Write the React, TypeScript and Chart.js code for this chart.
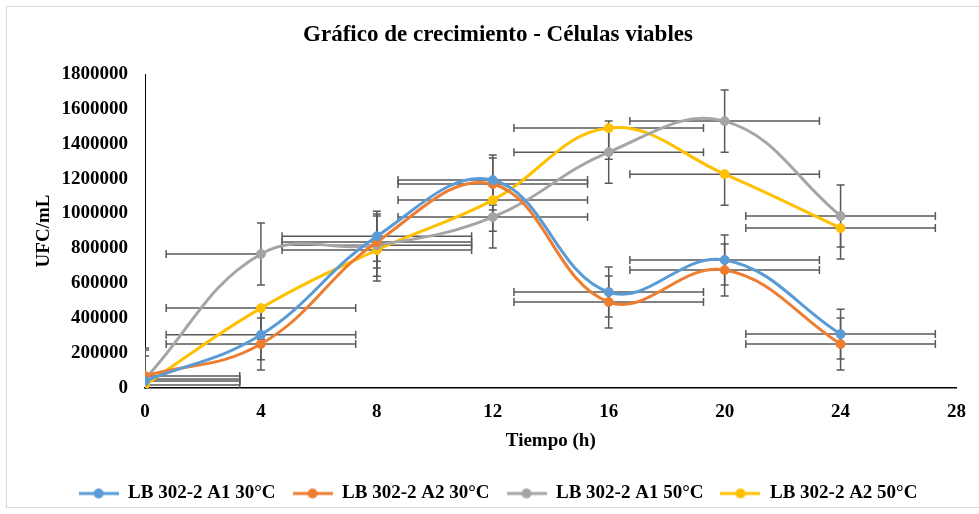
import React, { useEffect, useRef } from 'react';
import { Chart, registerables } from 'chart.js';

Chart.register(...registerables);

const FONT = '"Liberation Serif", "Times New Roman", serif';

const chartTitle = 'Gráfico de crecimiento - Células viables';
const xAxisTitle = 'Tiempo (h)';
const yAxisTitle = 'UFC/mL';

const times = [0, 4, 8, 12, 16, 20, 24];
const seriesLabels = ['LB 302-2 A1 30°C', 'LB 302-2 A2 30°C', 'LB 302-2 A1 50°C', 'LB 302-2 A2 50°C'];
const seriesColors = ['#5B9BD5', '#ED7D31', '#A5A5A5', '#FFC000'];

const a1_30 = [40000, 305000, 870000, 1192000, 550000, 734000, 309000];
const a2_30 = [69000, 252000, 837000, 1169000, 493000, 676000, 252000];
const a1_50 = [52000, 768000, 819000, 980000, 1352000, 1530000, 986000];
const a2_50 = [17000, 458000, 791000, 1077000, 1490000, 1226000, 917000];

const a1_30_yErr = [143000, 143000, 143000, 143000, 143000, 143000, 143000];
const a2_30_yErr = [149000, 149000, 149000, 149000, 149000, 149000, 149000];
const a1_50_yErr = [178000, 178000, 178000, 178000, 178000, 178000, 178000];
const a2_50_yErrPlus = [0, 0, 0, 0, 0, 0, 0];
const a2_50_yErrMinus = [178000, 178000, 178000, 178000, 178000, 178000, 178000];

const xErr = [3.27, 3.27, 3.27, 3.27, 3.27, 3.27, 3.27];
const a1_50_xErrPlus = [3.27, 0, 3.27, 3.27, 3.27, 3.27, 3.27];

const xTickValues = [0, 4, 8, 12, 16, 20, 24, 28];
const yTickValues = [0, 200000, 400000, 600000, 800000, 1000000, 1200000, 1400000, 1600000, 1800000];

const seriesValues = [a1_30, a2_30, a1_50, a2_50];
const seriesErrors = [
  { xPlus: xErr, xMinus: xErr, yPlus: a1_30_yErr, yMinus: a1_30_yErr },
  { xPlus: xErr, xMinus: xErr, yPlus: a2_30_yErr, yMinus: a2_30_yErr },
  { xPlus: a1_50_xErrPlus, xMinus: xErr, yPlus: a1_50_yErr, yMinus: a1_50_yErr },
  { xPlus: xErr, xMinus: xErr, yPlus: a2_50_yErrPlus, yMinus: a2_50_yErrMinus },
];

const ERR_COLOR = '#595959';
const CAP = 4;

const framePlugin = {
  id: 'frame',
  beforeDraw(chart: any) {
    const { ctx, width, height } = chart;
    ctx.save();
    ctx.fillStyle = '#ffffff';
    ctx.fillRect(0, 0, width, height);
    ctx.strokeStyle = '#D9D9D9';
    ctx.lineWidth = 1;
    ctx.strokeRect(6.5, 6.5, width, height - 13);
    ctx.restore();
  },
};

const errorBarPlugin = {
  id: 'errorBars',
  beforeDatasetsDraw(chart: any) {
    const { ctx, chartArea, scales } = chart;
    const xs = scales.x;
    const ys = scales.y;
    ctx.save();
    ctx.beginPath();
    ctx.rect(chartArea.left, chartArea.top, chartArea.right - chartArea.left, chartArea.bottom - chartArea.top);
    ctx.clip();
    ctx.strokeStyle = ERR_COLOR;
    ctx.lineWidth = 1.5;
    seriesErrors.forEach((err, di) => {
      const vals = seriesValues[di];
      times.forEach((t, i) => {
        const px = xs.getPixelForValue(t);
        const py = ys.getPixelForValue(vals[i]);
        ctx.beginPath();
        if (err.yPlus[i] > 0) {
          const top = ys.getPixelForValue(vals[i] + err.yPlus[i]);
          ctx.moveTo(px, py); ctx.lineTo(px, top);
          ctx.moveTo(px - CAP, top); ctx.lineTo(px + CAP, top);
        }
        if (err.yMinus[i] > 0) {
          const bot = ys.getPixelForValue(vals[i] - err.yMinus[i]);
          ctx.moveTo(px, py); ctx.lineTo(px, bot);
          ctx.moveTo(px - CAP, bot); ctx.lineTo(px + CAP, bot);
        }
        if (err.xPlus[i] > 0) {
          const r = xs.getPixelForValue(t + err.xPlus[i]);
          ctx.moveTo(px, py); ctx.lineTo(r, py);
          ctx.moveTo(r, py - CAP); ctx.lineTo(r, py + CAP);
        }
        if (err.xMinus[i] > 0) {
          const l = xs.getPixelForValue(t - err.xMinus[i]);
          ctx.moveTo(px, py); ctx.lineTo(l, py);
          ctx.moveTo(l, py - CAP); ctx.lineTo(l, py + CAP);
        }
        ctx.stroke();
      });
    });
    ctx.restore();
  },
};

function makeLegendIcon(color: string) {
  const c = document.createElement('canvas');
  c.width = 40;
  c.height = 12;
  const g = c.getContext('2d')!;
  g.strokeStyle = color;
  g.lineWidth = 3;
  g.beginPath();
  g.moveTo(0, 6);
  g.lineTo(40, 6);
  g.stroke();
  g.fillStyle = color;
  g.beginPath();
  g.arc(20, 6, 5, 0, Math.PI * 2);
  g.fill();
  return c;
}

export default function App() {
  const canvasRef = useRef<HTMLCanvasElement | null>(null);

  useEffect(() => {
    const canvas = canvasRef.current;
    if (!canvas) return;
    const icons = seriesColors.map((c) => makeLegendIcon(c));
    const tickFont = { family: FONT, size: 19, weight: 'bold' as const };

    const chart = new Chart(canvas, {
      type: 'scatter',
      data: {
        datasets: seriesLabels.map((label, di) => ({
          label,
          data: times.map((t, i) => ({ x: t, y: seriesValues[di][i] })),
          showLine: true,
          borderColor: seriesColors[di],
          backgroundColor: seriesColors[di],
          borderWidth: 3,
          tension: 0.4,
          pointRadius: 4.5,
          pointBorderWidth: 1,
          pointBorderColor: seriesColors[di],
          pointBackgroundColor: seriesColors[di],
          pointStyle: 'circle',
        })),
      },
      options: {
        responsive: false,
        animation: false,
        events: [],
        layout: { padding: { top: 0, left: 38, right: 21, bottom: 1 } },
        plugins: {
          title: {
            display: true,
            text: chartTitle,
            color: '#000',
            font: { family: FONT, size: 23, weight: 'bold' },
            padding: { top: 21.7, bottom: 24.7 },
          },
          legend: {
            position: 'bottom',
            labels: {
              usePointStyle: true,
              pointStyleWidth: 40,
              padding: 17,
              color: '#000',
              font: tickFont,
              generateLabels: (ch: any) =>
                Chart.defaults.plugins.legend.labels
                  .generateLabels(ch)
                  .map((l: any, i: number) => ({ ...l, pointStyle: icons[i] })),
            },
          },
          tooltip: { enabled: false },
        },
        scales: {
          x: {
            type: 'linear',
            min: 0,
            max: 28,
            afterBuildTicks: (s: any) => {
              s.ticks = xTickValues.map((v) => ({ value: v }));
            },
            afterFit: (s: any) => {
              s.height = 79;
            },
            ticks: { padding: 13, color: '#000', font: tickFont, callback: (v: any) => String(v), maxRotation: 0 },
            grid: { display: false, drawTicks: false },
            border: { display: true, color: '#000', width: 1.5 },
            title: {
              display: true,
              text: xAxisTitle,
              color: '#000',
              font: tickFont,
              padding: { top: 0, bottom: 15 },
            },
          },
          y: {
            type: 'linear',
            min: 0,
            max: 1800000,
            afterBuildTicks: (s: any) => {
              s.ticks = yTickValues.map((v) => ({ value: v }));
            },
            afterFit: (s: any) => {
              s.width = 107;
            },
            ticks: { padding: 17, color: '#000', font: tickFont, callback: (v: any) => String(v) },
            grid: { display: false, drawTicks: false },
            border: { display: true, color: '#000', width: 1 },
            title: {
              display: true,
              text: yAxisTitle,
              color: '#000',
              font: tickFont,
              padding: { top: -5.8, bottom: 0 },
            },
          },
        },
      } as any,
      plugins: [framePlugin, errorBarPlugin],
    });

    return () => {
      chart.destroy();
    };
  }, []);

  return (
    <div style={{ position: 'fixed', left: 0, top: 0, width: 979, height: 514, background: '#fff' }}>
      <canvas ref={canvasRef} width={979} height={514} style={{ display: 'block', width: 979, height: 514 }} />
    </div>
  );
}
